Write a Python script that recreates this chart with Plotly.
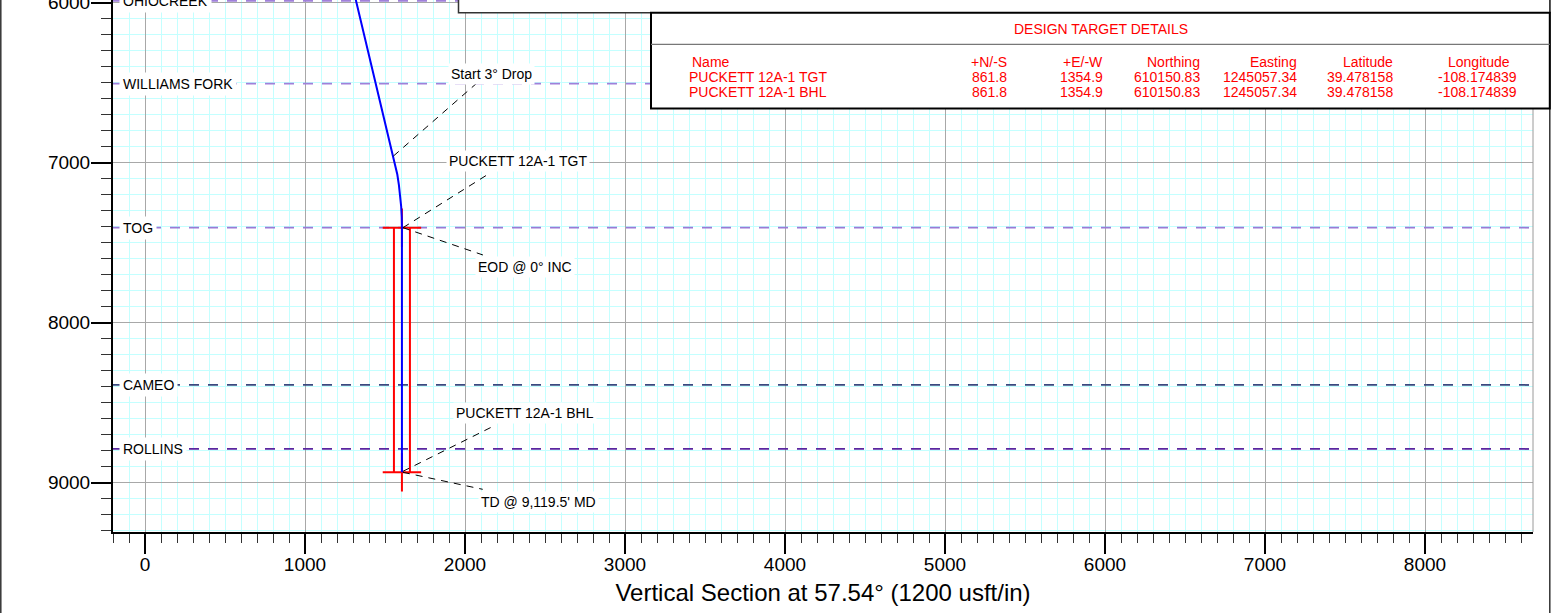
import plotly.graph_objects as go

# ---------------- data ----------------
# well path (vertical section, TVD)
well_vs = [1298, 1553, 1564, 1577, 1587, 1595, 1601, 1604.6, 1605.8, 1605.8]
well_tvd = [5900, 6958, 7009, 7074, 7140, 7206, 7273, 7339, 7406, 8935]

# formation tops
formation_names = ["OHIOCREEK", "WILLIAMS FORK", "TOG", "CAMEO", "ROLLINS"]
formation_tvd = [5989, 6506, 7406, 8389, 8789]
formation_colors = ["#A080DA", "#A080DA", "#9A7AD6", "#3A4A80", "#5A26A0"]

# design targets
target_names = ["PUCKETT 12A-1 TGT", "PUCKETT 12A-1 BHL"]
target_vs = [1605.8, 1605.8]
target_tvd = [7406, 8935]
target_ns = [861.8, 861.8]
target_ew = [1354.9, 1354.9]
target_northing = [610150.83, 610150.83]
target_easting = [1245057.34, 1245057.34]
target_lat = [39.478158, 39.478158]
target_lon = [-108.174839, -108.174839]

# well annotations
well_labels = ["Start 3° Drop", "PUCKETT 12A-1 TGT", "EOD @ 0° INC",
               "PUCKETT 12A-1 BHL", "TD @ 9,119.5' MD"]
label_vs = [1553, 1605.8, 1605.8, 1605.8, 1605.8]
label_tvd = [6958, 7406, 7406, 8935, 8935]

x_ticks = [0, 1000, 2000, 3000, 4000, 5000, 6000, 7000, 8000]
y_ticks = [6000, 7000, 8000, 9000]
x_title = "Vertical Section at 57.54° (1200 usft/in)"
table_title = "DESIGN TARGET DETAILS"
table_headers = ["Name", "+N/-S", "+E/-W", "Northing", "Easting", "Latitude", "Longitude"]

# ---------------- layout helpers ----------------
W, H = 1551, 613
ML, MR, MT, MB = 113, 18, 0, 81
PW, PH = W - ML - MR, H - MT - MB
FONT = "Arial, Liberation Sans, sans-serif"


def pxx(xp):
    return (xp - ML) / PW


def pxy(yp):
    return (PH - (yp - MT)) / PH


fig = go.Figure()

# formation lines
for name, tvd, col in zip(formation_names, formation_tvd, formation_colors):
    fig.add_trace(go.Scatter(x=[-200, 8675], y=[tvd, tvd], mode="lines",
                             line=dict(color=col, width=1.8, dash="10px,9px"),
                             hoverinfo="skip", showlegend=False))

# target symbols (red)
cross_half = 120
cyl_half = 50
rx, ry = [], []
for vs, tvd in zip(target_vs, target_tvd):
    rx += [vs - cross_half, vs + cross_half, None, vs, vs, None]
    ry += [tvd, tvd, None, tvd - cross_half, tvd + cross_half, None]
rx += [target_vs[0] - cyl_half, target_vs[1] - cyl_half, None,
       target_vs[0] + cyl_half, target_vs[1] + cyl_half]
ry += [target_tvd[0], target_tvd[1], None, target_tvd[0], target_tvd[1]]
fig.add_trace(go.Scatter(x=rx, y=ry, mode="lines", line=dict(color="#FF0000", width=2),
                         hoverinfo="skip", showlegend=False))

# well path (blue)
fig.add_trace(go.Scatter(x=well_vs, y=well_tvd, mode="lines",
                         line=dict(color="#0000FF", width=2),
                         hoverinfo="skip", showlegend=False))

shapes = []
annotations = []

# leader lines + labels (pixel offsets relative to anchor points)
leader_start = [(0, 0), (1, 0), (1, 0), (1, -1), (1, 0)]
leader_end = [(83.5, -73), (85, -52.7), (81, 27.3), (89.8, -45.3), (80.8, 17)]
text_pos = [(56.5, -82.5), (45.8, -66.7), (74.8, 39), (53, -59), (78, 29.4)]
for lab, vs, tvd, s, e, t in zip(well_labels, label_vs, label_tvd, leader_start, leader_end, text_pos):
    shapes.append(dict(type="line", xref="x", yref="y", xsizemode="pixel", ysizemode="pixel",
                       xanchor=vs, yanchor=tvd, x0=s[0], y0=-s[1], x1=e[0], y1=-e[1],
                       line=dict(color="black", width=1, dash="7px,6px"), layer="above"))
    annotations.append(dict(x=vs, y=tvd, xref="x", yref="y", text=lab, showarrow=False,
                            xanchor="left", yanchor="middle", xshift=t[0] - 2, yshift=-t[1],
                            bgcolor="white", borderpad=2,
                            font=dict(family=FONT, size=14, color="black")))

# formation labels
for name, tvd in zip(formation_names, formation_tvd):
    annotations.append(dict(x=0, y=tvd, xref="paper", yref="y", text=name, showarrow=False,
                            xanchor="left", yanchor="middle", xshift=6, bgcolor="white",
                            borderpad=3, font=dict(family=FONT, size=14, color="black")))

# right plot frame
shapes.append(dict(type="line", xref="paper", yref="paper", x0=1, x1=1, y0=0, y1=1,
                   line=dict(color="#9A9A9A", width=1), layer="above"))
# outer frame
shapes.append(dict(type="line", xref="paper", yref="paper", x0=pxx(0.8), x1=pxx(0.8),
                   y0=pxy(H + 5), y1=pxy(-5), line=dict(color="#333333", width=1.5), layer="above"))
shapes.append(dict(type="line", xref="paper", yref="paper", x0=pxx(1549.8), x1=pxx(1549.8),
                   y0=pxy(H + 5), y1=pxy(-5), line=dict(color="#333333", width=1.5), layer="above"))
# upper (cut-off) box
shapes.append(dict(type="rect", xref="paper", yref="paper", x0=pxx(458.5), x1=pxx(1549.8),
                   y0=pxy(12.8), y1=pxy(-5), fillcolor="white",
                   line=dict(color="#333333", width=1.5), layer="above"))
# design target table box
shapes.append(dict(type="rect", xref="paper", yref="paper", x0=pxx(651), x1=pxx(1549.8),
                   y0=pxy(108.4), y1=pxy(12.8), fillcolor="white",
                   line=dict(color="black", width=2), layer="above"))
shapes.append(dict(type="line", xref="paper", yref="paper", x0=pxx(651), x1=pxx(1549.8),
                   y0=pxy(44.3), y1=pxy(44.3), line=dict(color="#777777", width=1.3), layer="above"))

RED = "#FF0000"
annotations.append(dict(x=pxx(1101), y=pxy(29.3), xref="paper", yref="paper", text=table_title,
                        showarrow=False, xanchor="center", yanchor="middle",
                        font=dict(family=FONT, size=14, color=RED)))
# columns: (x px, anchor)
col_hdr_pos = [(711, "center"), (1008.5, "right"), (1104.5, "right"), (1202, "right"),
               (1299, "right"), (1395, "right"), (1479, "center")]
col_val_pos = [(686.5, "left"), (1008.5, "right"), (1104.5, "right"), (1202, "right"),
               (1299, "right"), (1395, "right"), (1477, "center")]
for h, (xp, anc) in zip(table_headers, col_hdr_pos):
    annotations.append(dict(x=pxx(xp), y=pxy(61.7), xref="paper", yref="paper", text=h,
                            showarrow=False, xanchor=anc, yanchor="middle",
                            font=dict(family=FONT, size=14, color=RED)))
rows_y = [76.8, 92.4]
for i in range(len(target_names)):
    vals = [target_names[i], f"{target_ns[i]:.1f}", f"{target_ew[i]:.1f}",
            f"{target_northing[i]:.2f}", f"{target_easting[i]:.2f}",
            f"{target_lat[i]:.6f}", f"{target_lon[i]:.6f}"]
    for v, (xp, anc) in zip(vals, col_val_pos):
        annotations.append(dict(x=pxx(xp), y=pxy(rows_y[i]), xref="paper", yref="paper", text=v,
                                showarrow=False, xanchor=anc, yanchor="middle",
                                font=dict(family=FONT, size=14, color=RED)))

fig.update_layout(
    width=W, height=H,
    margin=dict(l=ML, r=MR, t=MT, b=MB, autoexpand=False),
    paper_bgcolor="white", plot_bgcolor="white",
    showlegend=False,
    shapes=shapes, annotations=annotations,
    font=dict(family=FONT, color="black"),
)
fig.update_xaxes(
    range=[-200, 8675], tickvals=x_ticks, ticks="outside", ticklen=20, tickwidth=2,
    tickcolor="black", showgrid=True, gridcolor="#A8A8A8", gridwidth=1.3, zeroline=False,
    showline=True, linecolor="black", linewidth=2, tickfont=dict(size=19, family=FONT),
    ticklabelstandoff=-6,
    minor=dict(dtick=100, tick0=0, ticks="outside", ticklen=9, tickwidth=1.3,
               tickcolor="#333333", showgrid=True, gridcolor="#C4FFFF", gridwidth=1),
    title=dict(text=x_title, font=dict(size=24, family=FONT), standoff=10),
    automargin=False,
)
fig.update_yaxes(
    range=[9308, 5983], tickvals=y_ticks, ticks="outside", ticklen=20, tickwidth=2,
    tickcolor="black", showgrid=True, gridcolor="#A8A8A8", gridwidth=1.3, zeroline=False,
    showline=True, linecolor="black", linewidth=2, tickfont=dict(size=19, family=FONT),
    ticklabelstandoff=-3, ticklabeloverflow="allow",
    minor=dict(dtick=100, tick0=0, ticks="outside", ticklen=10, tickwidth=1.3,
               tickcolor="#333333", showgrid=True, gridcolor="#C4FFFF", gridwidth=1),
    automargin=False,
)

fig.write_html("out.html", config={"displayModeBar": False},
               post_script="document.body.style.margin='0';document.body.style.padding='0';")
